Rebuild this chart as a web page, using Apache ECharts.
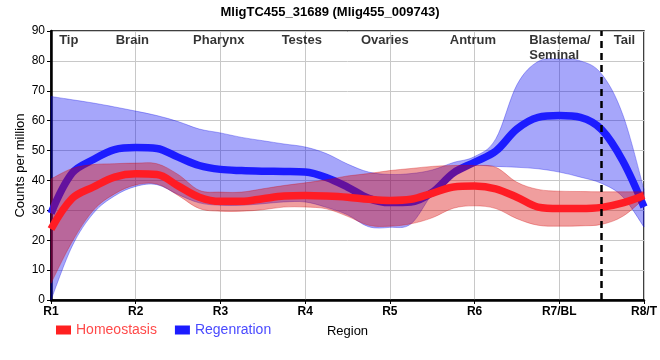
<!DOCTYPE html>
<html>
<head>
<meta charset="utf-8">
<script src="https://cdn.jsdelivr.net/npm/echarts@6/dist/echarts.min.js"></script>
<style>
html,body{margin:0;padding:0;background:#fff;}
#chart{width:660px;height:360px;}
</style>
</head>
<body>
<div id="chart"></div>
<script>
// Sample positions along the region axis (1 = R1 ... 8 = R8)
var xs = [1,1.25,1.5,1.75,2,2.25,2.5,2.75,3,3.25,3.5,3.75,4,4.25,4.5,4.75,5,5.25,5.5,5.75,6,6.25,6.5,6.75,7,7.25,7.5,7.75,8];
var xLabels = ['R1','R2','R3','R4','R5','R6','R7/BL','R8/T'];

var homeoMean  = [23.7,34,37.8,41.1,42.2,42.0,38.2,34.4,33.0,33.0,33.9,34.8,35.0,34.8,34.4,33.7,33.3,33.7,35.7,37.8,38.1,37.2,34.4,31.1,30.6,30.6,31.0,32.5,35.0];
var homeoUpper = [40.5,44,45.3,45.6,45.8,45.6,42,36.7,36.1,36.1,37.2,38.3,39.2,40.2,41.5,42.3,43.3,44,44.7,45,45,44.4,39.4,37,36.4,36.3,36.2,36.2,36.2];
var homeoLower = [5.6,19.5,30,35.5,38.5,38.8,35,30.6,29.7,29.7,30.2,31.1,31.1,30.5,28,25,24.7,25.5,27.5,30.7,31.5,30.6,27.2,25,24.7,24.8,25.3,28,33.9];

var regenMean  = [29,42.5,47,50.3,51,50.7,47.8,45,43.7,43.3,43.1,43,42.8,41,37.8,34,32.6,32.8,36,42.5,46.1,49.8,57.2,61.1,61.7,61.1,57,46.5,31.1];
var regenUpper = [68.1,67,65.9,64.6,63.2,61.7,59.7,57.2,55.9,54.4,53.3,52.2,51.2,49,45.5,42.8,42,42.3,43.5,46,48,53.9,72,79.8,80.6,80,75.6,62,37];
var regenLower = [0,18,29,34.8,38,38.6,35.3,32.5,31.7,31.7,32.2,32.8,32.8,31,28.5,24.5,24.3,25.5,35.5,43.5,45,44.7,44.4,43.9,42.8,41.1,39,34.5,24.4];

var regionNames = ['Tip','Brain','Pharynx','Testes','Ovaries','Antrum','Blastema/\nSeminal','Tail'];
var regionPos   = [1.21,1.96,2.98,3.96,4.94,5.98,6.645,7.77];
var boundaryX = 7.5;

var SMOOTH = 0.35;
var FONT = 'Liberation Sans, Arial, sans-serif';

function pairs(vals){ return xs.map(function(x,i){ return [x, vals[i]]; }); }

// smooth path segment through pixel points (ECharts-like bezier smoothing)
function smoothSegs(pts, startWithMove){
  var d = '';
  var n = pts.length;
  function cp(i){
    var p = pts[i], prev = pts[Math.max(i-1,0)], next = pts[Math.min(i+1,n-1)];
    var vx = (next[0]-prev[0])*SMOOTH*0.5, vy = (next[1]-prev[1])*SMOOTH*0.5;
    return {a:[p[0]-vx, p[1]-vy], b:[p[0]+vx, p[1]+vy]};
  }
  d += (startWithMove ? 'M' : 'L') + pts[0][0] + ' ' + pts[0][1];
  for (var i=0;i<n-1;i++){
    var c1 = cp(i).b, c2 = cp(i+1).a, p2 = pts[i+1];
    d += ' C' + c1[0] + ' ' + c1[1] + ' ' + c2[0] + ' ' + c2[1] + ' ' + p2[0] + ' ' + p2[1];
  }
  return d;
}

function bandSeries(name, upper, lower, fill, stroke, z){
  return {
    name:name, type:'custom', coordinateSystem:'cartesian2d', silent:true, z:z,
    data:[[xs[0], lower[0]]],
    encode:{x:0, y:1},
    renderItem:function(params, api){
      var up = xs.map(function(x,i){ return api.coord([x, upper[i]]); });
      var lo = xs.map(function(x,i){ return api.coord([x, lower[i]]); }).reverse();
      var d = smoothSegs(up, true) + ' ' + smoothSegs(lo, false) + ' Z';
      return {type:'path', shape:{pathData:d}, style:{fill:fill, stroke:stroke, lineWidth:1}};
    }
  };
}

var chart = echarts.init(document.getElementById('chart'), null, {renderer:'canvas'});

var regionData = regionNames.map(function(n,i){
  var item = {name:n, value:[regionPos[i], 90]};
  if (n.indexOf('\n') >= 0) { item.label = {align:'left'}; }
  return item;
});

var option = {
  animation:false,
  backgroundColor:'#fff',
  title:{
    text:'MligTC455_31689 (Mlig455_009743)',
    left:'center', top:1,
    textStyle:{fontFamily:FONT, fontSize:13, fontWeight:'bold', color:'#000'}
  },
  legend:{
    left:56, top:323, padding:0,
    icon:'rect', itemWidth:15, itemHeight:9, itemGap:18,
    textStyle:{fontFamily:FONT, fontSize:14},
    data:[
      {name:'Homeostasis', textStyle:{color:'#ff4a4a'}},
      {name:'Regenration', textStyle:{color:'#4a4aff'}}
    ]
  },
  grid:{left:51, right:9, top:31, bottom:60, show:true, borderColor:'#000', borderWidth:1.5, backgroundColor:'transparent'},
  xAxis:{
    type:'value', min:1, max:8, interval:1,
    name:'Region', nameLocation:'middle', nameGap:25, nameMoveOverlap:false,
    nameTextStyle:{fontFamily:FONT, fontSize:13, color:'#000'},
    axisLine:{onZero:false, lineStyle:{color:'#000', width:2.5}},
    axisTick:{show:true, length:4, lineStyle:{color:'#000', width:1}},
    axisLabel:{margin:6, fontFamily:FONT, fontSize:12, fontWeight:'bold', color:'#000',
      formatter:function(v){ return xLabels[Math.round(v)-1] || ''; }},
    splitLine:{show:true, lineStyle:{color:'#c8c8c8', width:1}}
  },
  yAxis:{
    type:'value', min:0, max:90, interval:10,
    name:'Counts per million', nameLocation:'middle', nameGap:24, nameMoveOverlap:false,
    nameTextStyle:{fontFamily:FONT, fontSize:13, color:'#000'},
    axisLine:{show:true, onZero:false, lineStyle:{color:'#000', width:2.5}},
    axisTick:{show:true, length:4, lineStyle:{color:'#000', width:1}},
    axisLabel:{margin:6, fontFamily:FONT, fontSize:12, color:'#000'},
    splitLine:{show:true, lineStyle:{color:'#c8c8c8', width:1}}
  },
  series:[
    bandSeries('regenBand', regenUpper, regenLower, 'rgba(0,0,240,0.35)', 'rgba(0,0,230,0.3)', 1),
    {
      name:'Regenration', type:'line', data:pairs(regenMean), smooth:SMOOTH, symbol:'none',
      color:'#1c1cff', clip:false, z:2,
      lineStyle:{color:'#1c1cff', width:7.5}
    },
    bandSeries('homeoBand', homeoUpper, homeoLower, 'rgba(215,0,0,0.38)', 'rgba(210,0,0,0.3)', 3),
    {
      name:'Homeostasis', type:'line', data:pairs(homeoMean), smooth:SMOOTH, symbol:'none',
      color:'#ff2020', clip:false, z:4,
      lineStyle:{color:'#ff1c24', width:7.5},
      markLine:{
        symbol:'none', silent:true, animation:false, z:5,
        label:{show:false},
        lineStyle:{color:'#000', type:[7,5], width:2.5},
        data:[{xAxis:boundaryX}]
      }
    },
    {
      name:'regions', type:'scatter', symbolSize:0, silent:true, z:10,
      data:regionData,
      label:{show:true, position:'bottom', distance:2, formatter:'{b}',
        fontFamily:FONT, fontSize:13, fontWeight:'bold', color:'#000', lineHeight:15}
    }
  ]
};
chart.setOption(option);
</script>
</body>
</html>
